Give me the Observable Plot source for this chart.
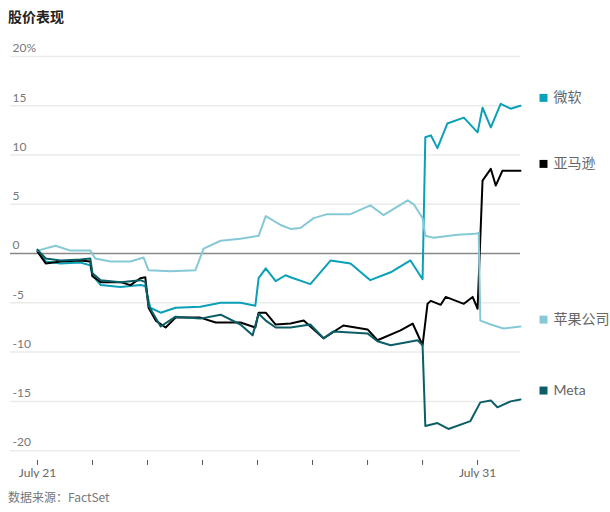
<!DOCTYPE html>
<html><head><meta charset="utf-8">
<script src="https://cdn.jsdelivr.net/npm/d3@7"></script>
<script src="https://cdn.jsdelivr.net/npm/@observablehq/plot@0.6"></script>
<style>
body{margin:0;background:#fff;font-family:"Noto Sans CJK SC","Noto Sans",sans-serif;}
#t{font-size:14px;font-weight:bold;color:#222;padding:6px 0 0 8px;height:30px;}
#c{font-size:12px;color:#777;padding:0 0 0 8px;margin-top:10px;}
</style></head><body>
<div id="t">股价表现</div>
<div id="chart"></div>
<div id="c">数据来源：FactSet</div>
<script>
const msft = [[0,0.3],[0.15,-0.8],[0.42,-1],[0.78,-0.9],[0.96,-1.2],[1.0,-2.2],[1.15,-3.2],[1.51,-3.4],[1.87,-3.2],[1.96,-3.3],[2.05,-5.5],[2.24,-6],[2.51,-5.5],[2.96,-5.4],[3.33,-5],[3.69,-5],[3.96,-5.3],[4.02,-2.5],[4.15,-1.5],[4.33,-2.8],[4.51,-2.2],[4.6,-2.4],[4.96,-3.1],[5.33,-0.7],[5.69,-1.0],[6.05,-2.7],[6.42,-1.9],[6.78,-0.7],[7.0,-2.6],[7.05,11.8],[7.15,12],[7.27,10.7],[7.45,13.2],[7.75,13.8],[8.0,12.3],[8.09,14.8],[8.24,12.8],[8.42,15.2],[8.6,14.7],[8.78,15]];
const aapl = [[0,0.3],[0.33,0.8],[0.6,0.3],[0.96,0.3],[1.05,-0.5],[1.33,-0.8],[1.69,-0.8],[1.93,-0.4],[2.02,-1.7],[2.42,-1.8],[2.87,-1.7],[3.02,0.5],[3.33,1.3],[3.69,1.5],[4.02,1.8],[4.15,3.8],[4.42,2.9],[4.6,2.5],[4.78,2.6],[5.02,3.6],[5.27,4.0],[5.69,4.0],[6.05,4.9],[6.29,3.9],[6.73,5.4],[6.84,5.0],[7.0,3.6],[7.05,1.8],[7.2,1.6],[7.64,1.9],[7.96,2.0],[8.02,2.1],[8.05,-6.8],[8.24,-7.2],[8.47,-7.6],[8.78,-7.4]];
const amzn = [[0,0.2],[0.15,-1],[0.42,-0.8],[0.78,-0.7],[0.96,-0.8],[1.0,-2.3],[1.15,-2.9],[1.51,-2.9],[1.69,-3.2],[1.87,-2.5],[1.96,-2.4],[2.02,-5.5],[2.15,-6.8],[2.33,-7.5],[2.51,-6.5],[2.96,-6.5],[3.24,-7],[3.69,-7],[3.96,-7.5],[4.02,-6],[4.15,-6],[4.33,-7.2],[4.6,-7.1],[4.84,-6.8],[5.2,-8.6],[5.56,-7.3],[6.0,-7.7],[6.18,-8.8],[6.6,-7.8],[6.82,-7.1],[7.0,-9.3],[7.09,-5.1],[7.15,-4.8],[7.33,-5.2],[7.42,-4.4],[7.75,-5.1],[7.91,-4.4],[8.0,-5.6],[8.09,7.4],[8.24,8.6],[8.33,6.9],[8.45,8.4],[8.78,8.4]];
const meta = [[0,0.4],[0.15,-0.5],[0.42,-0.7],[0.78,-0.6],[0.96,-0.5],[1.0,-2],[1.15,-2.7],[1.51,-2.9],[1.87,-2.7],[1.96,-2.9],[2.02,-5.3],[2.24,-7.4],[2.51,-6.4],[2.96,-6.6],[3.33,-6.2],[3.69,-7.2],[3.91,-8.3],[4.02,-6.1],[4.15,-6.8],[4.33,-7.5],[4.6,-7.5],[4.96,-7.2],[5.2,-8.6],[5.38,-7.9],[6.0,-8.1],[6.18,-8.9],[6.42,-9.3],[6.91,-8.8],[7.0,-9.3],[7.05,-17.5],[7.27,-17.2],[7.47,-17.8],[7.87,-17],[8.05,-15.1],[8.24,-14.9],[8.36,-15.6],[8.6,-15],[8.78,-14.8]];
const names = ["微软","亚马逊","苹果公司","Meta"];
const colors = ["#0aa0b8","#000000","#86c9d6","#0b5e66"];
const labelY = [15.8,9.1,-6.7,-13.9];
const yTicks = [20,15,10,5,0,-5,-10,-15,-20];
const xTicks = [0,1,2,3,4,5,6,7,8];
const xTickLabels = {0:"July 21",8:"July 31"};

const series = [msft,amzn,aapl,meta];
const data = series.flatMap((s,i)=>s.map(([x,y])=>({x,y,name:names[i]})));
const legend = names.map((n,i)=>({name:n,y:labelY[i]}));
const F = "Lato, 'Noto Sans CJK SC', sans-serif";

const plot = Plot.plot({
  width:610, height:442, marginLeft:10, marginRight:90, marginTop:20, marginBottom:18,
  style:{fontFamily:F, fontSize:"12px", color:"#666", background:"#fff"},
  x:{domain:[-0.49,8.78], axis:null},
  y:{domain:[-21,20], axis:null},
  color:{domain:names, range:colors},
  marks:[
    Plot.ruleY(yTicks.filter(d=>d!==0),{stroke:"#ebebeb", strokeWidth:1.5, x1:-0.49, x2:8.78}),
    Plot.ruleY([0],{stroke:"#888", strokeWidth:1.5, x1:-0.49, x2:8.78}),
    Plot.text(yTicks,{x:-0.49, y:d=>d, text:d=>d===20?"20%":String(d), textAnchor:"start", dx:2, dy:-8, fill:"#777", fontSize:12}),
    Plot.ruleX(xTicks,{x:d=>d, y1:-21, y2:-21.5, stroke:"#555"}),
    Plot.text(xTicks.filter(d=>xTickLabels[d]),{x:d=>d, y:-21, text:d=>xTickLabels[d], dy:13, fill:"#666", fontSize:12}),
    Plot.line(data,{x:"x", y:"y", z:"name", stroke:"name", strokeWidth:2, curve:"linear"}),
    Plot.dot(legend,{x:8.78, y:"y", fill:"name", symbol:"square", r:4.5, dx:23}),
    Plot.text(legend,{x:8.78, y:"y", text:"name", textAnchor:"start", dx:33, fill:"#666", fontSize:14})
  ]
});
document.getElementById("chart").appendChild(plot);
</script></body></html>
